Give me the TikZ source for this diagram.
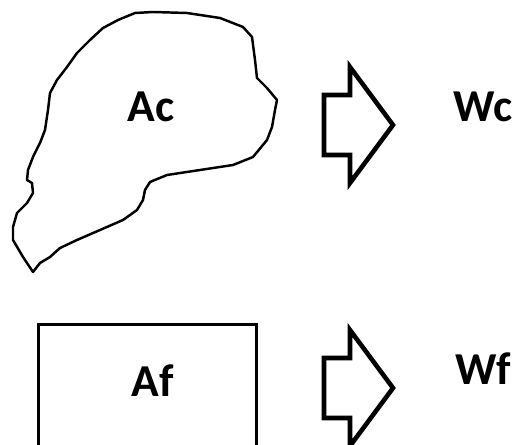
\documentclass[tikz,border=0pt]{standalone}
\usepackage{fontspec}
\setmainfont{Carlito}

\begin{document}
\begin{tikzpicture}[x=0.02cm, y=-0.02cm,
lbl/.style={font=\fontsize{26}{32}\selectfont\bfseries, inner sep=0pt, anchor=base},
blockarrow/.style={line width=2.6pt, line join=miter}]
\useasboundingbox (0,0) rectangle (517,445);
\clip (0,0) rectangle (517,445);
\draw[line width=1.4pt, line join=round] (135,13) -- (153,12) -- (187,13) -- (220,18) -- (243,27) -- (252,37) -- (255,60) -- (257,78) -- (267,88) -- (277,100) -- (275,110) -- (272,127) -- (267,140) -- (253,157) -- (233,165) -- (200,170) -- (167,175) -- (150,182) -- (145,190) -- (143,200) -- (137,210) -- (123,220) -- (100,230) -- (77,240) -- (60,248) -- (50,257) -- (40,263) -- (33,272) -- (23,257) -- (13,240) -- (13,227) -- (17,213) -- (27,203) -- (33,193) -- (32,183) -- (27,180) -- (28,170) -- (33,157) -- (40,143) -- (45,130) -- (48,110) -- (50,93) -- (57,80) -- (67,67) -- (77,53) -- (90,40) -- (103,28) -- (118,20) -- cycle;
\node[lbl] (Ac) at (151,122) {Ac};
\node[lbl, anchor=base west] (Wc) at (453,122) {Wc};
\node[draw, line width=1.5pt, anchor=north west, minimum width=4.36cm, minimum height=2.9cm] (Afbox) at (37,323) {};
\node[lbl] (Af) at (153,397) {Af};
\node[lbl, anchor=base west] (Wf) at (455,385) {Wf};
\foreach \y in {125,388}
  \draw[blockarrow] (324,\y-30) -- ++(26,0) -- ++(0,-28) -- (393,\y) -- (350,\y+58) -- ++(0,-28) -- (324,\y+30) -- cycle;
\end{tikzpicture}
\end{document}
